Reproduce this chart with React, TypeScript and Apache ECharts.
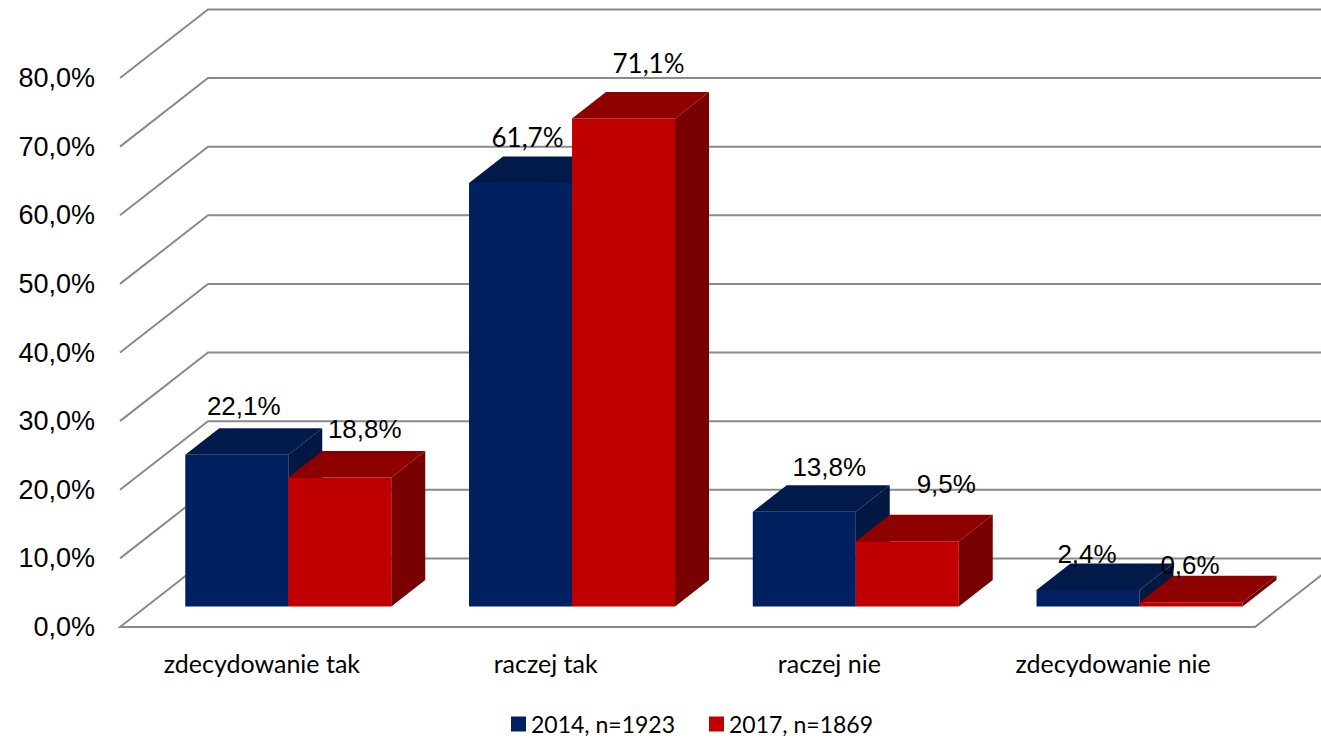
import React, { useEffect, useRef } from "react";
import * as echarts from "echarts";

// ---- data ----
const CATEGORIES = ["zdecydowanie tak", "raczej tak", "raczej nie", "zdecydowanie nie"];
const SERIES_NAMES = ["2014, n=1923", "2017, n=1869"];
const VALUES_2014 = [22.1, 61.7, 13.8, 2.4];
const VALUES_2017 = [18.8, 71.1, 9.5, 0.6];
const Y_TICKS = [0, 10, 20, 30, 40, 50, 60, 70, 80];

// ---- styling ----
const ARIAL = '"Liberation Sans", Arial, sans-serif';
const CALIBRI = 'Lato, "Open Sans", sans-serif';
const GRID_COLOR = "#8a8a8a";
const DEPTH_X = 88;
const DEPTH_Y = -68.6;
const BAR_FRONT = 0.3;
const BAR_DEPTH = 0.386;
const BAR_WIDTH = 0.363;
const COLORS_2014 = { front: "#002060", top: "#021a4a", side: "#011843" };
const COLORS_2017 = { front: "#c00000", top: "#8e0000", side: "#790000" };
const LABEL_NUDGE_2014 = [[-10, -1], [-10, 1], [8, 3], [-18, 12]];
const LABEL_NUDGE_2017 = [[8, -1], [8, -8], [22, -10], [-18, 10]];
const LABEL_FONT_2014 = [ARIAL, CALIBRI, ARIAL, ARIAL];
const LABEL_FONT_2017 = [ARIAL, CALIBRI, ARIAL, ARIAL];

const fmt = (v: number) => v.toFixed(1).replace(".", ",") + "%";

function makeBarRenderer(
  side: number,
  colors: { front: string; top: string; side: string },
  nudges: number[][],
  fonts: string[]
) {
  return (params: any, api: any) => {
    const i = api.value(0);
    const v = api.value(1);
    const base = api.coord([i, 0]);
    const topPt = api.coord([i, v]);
    const band = api.size([1, 0])[0];
    const bw = band * BAR_WIDTH;
    const ox = BAR_FRONT * DEPTH_X;
    const oy = BAR_FRONT * DEPTH_Y;
    const dx = BAR_DEPTH * DEPTH_X;
    const dy = BAR_DEPTH * DEPTH_Y;
    const xl = base[0] + ox + (side === 0 ? -bw : 0);
    const xr = xl + bw;
    const yb = base[1] + oy;
    const yt = topPt[1] + oy;
    const nudge = nudges[i] || [0, 0];
    return {
      type: "group",
      children: [
        { type: "rect", shape: { x: xl, y: yt, width: bw, height: yb - yt }, style: { fill: colors.front } },
        {
          type: "polygon",
          shape: { points: [[xl, yt], [xr, yt], [xr + dx, yt + dy], [xl + dx, yt + dy]] },
          style: { fill: colors.top },
        },
        {
          type: "polygon",
          shape: { points: [[xr, yt], [xr + dx, yt + dy], [xr + dx, yb + dy], [xr, yb]] },
          style: { fill: colors.side },
        },
        {
          type: "text",
          z2: 100,
          style: {
            text: fmt(v),
            x: xl + bw / 2 + dx / 2 + nudge[0],
            y: yt + dy - 21 + nudge[1],
            align: "center",
            verticalAlign: "middle",
            fontSize: 26,
            fontFamily: fonts[i],
            fill: "#000",
          },
        },
      ],
    };
  };
}

export default function App() {
  const ref = useRef<HTMLDivElement>(null);
  useEffect(() => {
    if (!ref.current) return;
    const chart = echarts.init(ref.current, null, { renderer: "svg" });
    chart.setOption({
      animation: false,
      backgroundColor: "#fff",
      grid: { left: 120, right: 66, top: 78, bottom: 111 },
      legend: {
        data: SERIES_NAMES,
        left: 511,
        top: 712,
        padding: 0,
        itemWidth: 15,
        itemHeight: 15,
        itemGap: 34,
        icon: "rect",
        textStyle: { fontFamily: CALIBRI, fontSize: 23, lineHeight: 24, color: "#000" },
      },
      xAxis: {
        type: "category",
        data: CATEGORIES,
        axisLine: { show: false },
        axisTick: { show: false },
        axisLabel: { fontFamily: CALIBRI, fontSize: 25, color: "#000", margin: 23 },
      },
      yAxis: {
        type: "value",
        min: 0,
        max: 80,
        interval: 10,
        axisLine: { show: false },
        axisTick: { show: false },
        splitLine: { show: false },
        axisLabel: { formatter: fmt, fontFamily: ARIAL, fontSize: 27, color: "#000", margin: 25 },
      },
      series: [
        {
          type: "custom",
          name: "grid",
          silent: true,
          clip: false,
          z: 1,
          data: Y_TICKS.map((t) => [0, t]),
          renderItem: (params: any, api: any) => {
            const cs = params.coordSys;
            const v = api.value(1);
            const y = api.coord([0, v])[1];
            const x0 = cs.x;
            const x1 = cs.x + cs.width;
            const style = { fill: "none", stroke: GRID_COLOR, lineWidth: 2 };
            if (v === 0) {
              return {
                type: "polygon",
                shape: { points: [[x0, y], [x0 + DEPTH_X, y + DEPTH_Y], [x1 + DEPTH_X, y + DEPTH_Y], [x1, y]] },
                style,
              };
            }
            return {
              type: "polyline",
              shape: { points: [[x0, y], [x0 + DEPTH_X, y + DEPTH_Y], [x1 + DEPTH_X, y + DEPTH_Y]] },
              style,
            };
          },
        },
        {
          type: "custom",
          name: SERIES_NAMES[0],
          clip: false,
          z: 2,
          itemStyle: { color: COLORS_2014.front },
          data: VALUES_2014.map((v, i) => [i, v]),
          renderItem: makeBarRenderer(0, COLORS_2014, LABEL_NUDGE_2014, LABEL_FONT_2014),
        },
        {
          type: "custom",
          name: SERIES_NAMES[1],
          clip: false,
          z: 3,
          itemStyle: { color: COLORS_2017.front },
          data: VALUES_2017.map((v, i) => [i, v]),
          renderItem: makeBarRenderer(1, COLORS_2017, LABEL_NUDGE_2017, LABEL_FONT_2017),
        },
      ],
    });
    return () => chart.dispose();
  }, []);
  return (
    <div
      ref={ref}
      style={{ position: "fixed", left: 0, top: 0, width: 1321, height: 738, background: "#fff" }}
    />
  );
}
